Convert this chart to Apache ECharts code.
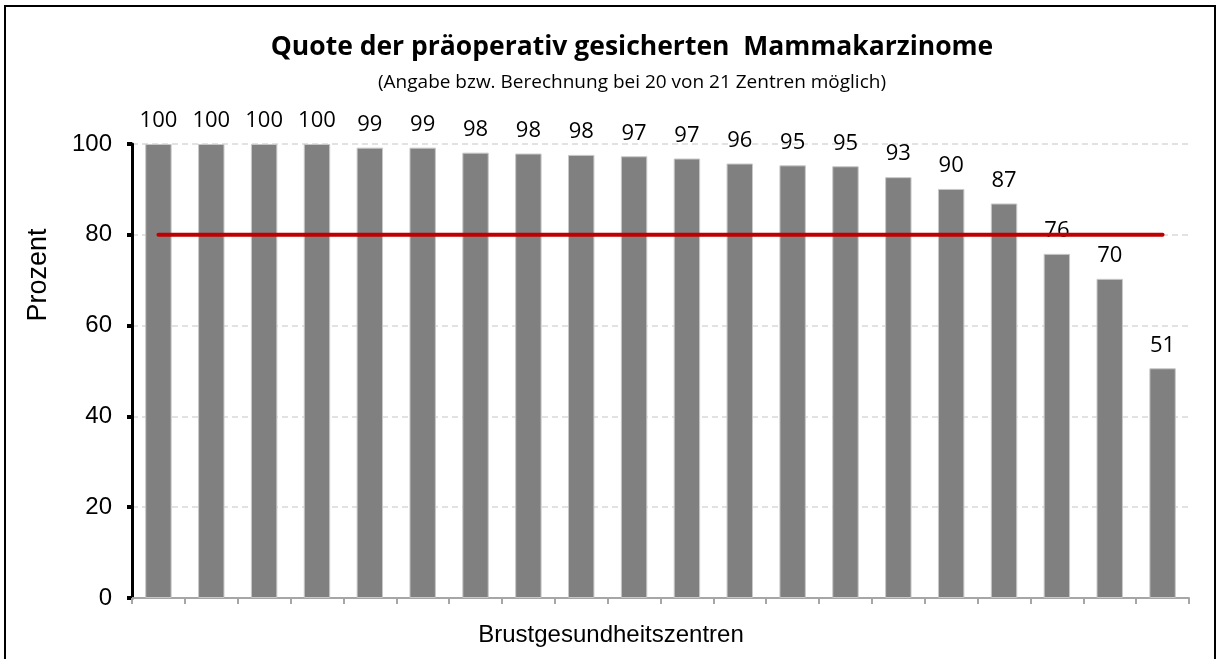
<!DOCTYPE html>
<html>
<head>
<meta charset="utf-8">
<script src="https://cdn.jsdelivr.net/npm/echarts@6/dist/echarts.min.js"></script>
<style>
  html, body { margin: 0; padding: 0; background: #ffffff; }
  #chart { width: 1223px; height: 659px; }
</style>
</head>
<body>
<div id="chart"></div>
<script>
// ---- Data ----
const titleText = 'Quote der präoperativ gesicherten  Mammakarzinome';
const subtitleText = '(Angabe bzw. Berechnung bei 20 von 21 Zentren möglich)';
const yAxisName = 'Prozent';
const xAxisName = 'Brustgesundheitszentren';
const categories = ['1','2','3','4','5','6','7','8','9','10','11','12','13','14','15','16','17','18','19','20'];
const quote = [100, 100, 100, 100, 99.2, 99.2, 98.1, 97.9, 97.6, 97.3, 96.8, 95.7, 95.3, 95.1, 92.7, 90.1, 86.9, 75.8, 70.3, 50.6];
const zielwert = [80, 80, 80, 80, 80, 80, 80, 80, 80, 80, 80, 80, 80, 80, 80, 80, 80, 80, 80, 80];
const yTicks = [0, 20, 40, 60, 80, 100];

const chart = echarts.init(document.getElementById('chart'), null, { renderer: 'canvas' });

const option = {
  backgroundColor: '#ffffff',
  animation: false,
  grid: { left: 132, right: 34, top: 144, bottom: 61, containLabel: false },
  xAxis: {
    type: 'category',
    data: categories,
    boundaryGap: true,
    axisLine: { show: true, lineStyle: { color: '#a6a6a6', width: 2 } },
    axisTick: { show: true, length: 6, alignWithLabel: false, lineStyle: { color: '#a6a6a6', width: 2 } },
    axisLabel: { show: false },
    splitLine: { show: false }
  },
  yAxis: {
    type: 'value',
    min: yTicks[0],
    max: yTicks[yTicks.length - 1],
    interval: 20,
    axisLine: { show: true, lineStyle: { color: '#000000', width: 3 } },
    axisTick: { show: true, length: 5, lineStyle: { color: '#000000', width: 4 } },
    axisLabel: { color: '#000000', fontFamily: 'Liberation Sans', fontSize: 24, margin: 20 },
    splitLine: { show: true, lineStyle: { color: '#d9d9d9', width: 1.5, type: [6, 4] } }
  },
  graphic: [
    { type: 'rect', silent: true, z: 100,
      shape: { x: 5, y: 6, width: 1210, height: 700 },
      style: { fill: 'none', stroke: '#000000', lineWidth: 2 } },
    { type: 'text', silent: true,
      style: { text: titleText, x: 632, y: 47, textAlign: 'center', textVerticalAlign: 'middle',
               font: 'bold 26.5px "Open Sans", sans-serif', fill: '#000000' } },
    { type: 'text', silent: true,
      style: { text: subtitleText, x: 632, y: 83, textAlign: 'center', textVerticalAlign: 'middle',
               font: '19px "Open Sans", sans-serif', fill: '#000000' } },
    { type: 'text', silent: true, x: 39, y: 275, rotation: Math.PI / 2,
      style: { text: yAxisName, x: 0, y: 0, textAlign: 'center', textVerticalAlign: 'middle',
               font: '27px "Liberation Sans", Arial, sans-serif', fill: '#000000' } },
    { type: 'text', silent: true,
      style: { text: xAxisName, x: 611, y: 635, textAlign: 'center', textVerticalAlign: 'middle',
               font: '24px "Liberation Sans", Arial, sans-serif', fill: '#000000' } }
  ],
  series: [
    {
      name: 'Quote',
      type: 'bar',
      data: quote,
      barWidth: '50%',
      itemStyle: { color: '#808080', borderColor: '#c8c8c8', borderWidth: 1 },
      label: {
        show: true,
        position: 'top',
        distance: 12,
        color: '#000000',
        fontFamily: 'Open Sans',
        fontSize: 22,
        formatter: p => String(Math.round(p.value))
      },
      z: 2
    },
    {
      name: 'Zielwert',
      type: 'line',
      data: zielwert,
      symbol: 'none',
      lineStyle: { color: '#c00000', width: 4, cap: 'round' },
      z: 3
    }
  ]
};

chart.setOption(option);
</script>
</body>
</html>
